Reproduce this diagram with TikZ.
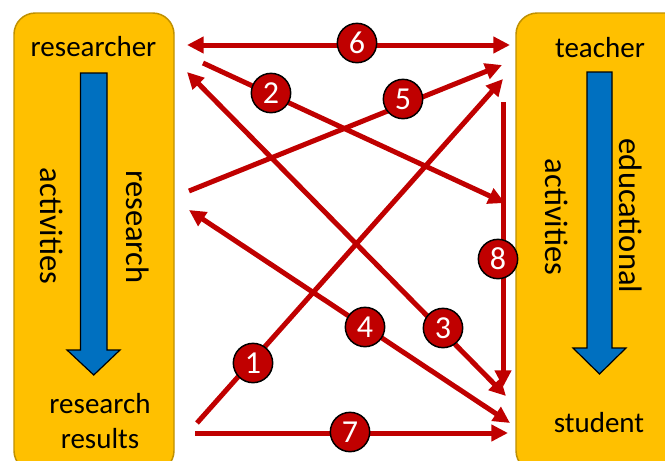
\documentclass[tikz,border=0pt]{standalone}
\usepackage{fontspec}
\setmainfont{Carlito}
\usetikzlibrary{arrows.meta}
\definecolor{boxfill}{HTML}{FFC000}
\definecolor{boxedge}{HTML}{BF9000}
\definecolor{flowblue}{HTML}{0070C0}
\definecolor{linkred}{HTML}{C00000}
\tikzset{
  rolebox/.style={fill=boxfill,draw=boxedge,line width=1.1pt,rounded corners=16pt},
  flowarrow/.style={fill=flowblue,draw=black,line width=0.9pt,line join=miter},
  lbl/.style={font=\fontsize{21.75}{26}\selectfont,inner sep=0pt,anchor=base},
  rlbl/.style={font=\fontsize{24.4}{28}\selectfont,inner sep=0pt,rotate=-90,anchor=center},
  link/.style={draw=linkred,line width=3.75pt,-{Triangle[length=12.5pt,width=12pt]}},
  linktwo/.style={draw=linkred,line width=3.75pt,{Triangle[length=12.5pt,width=12pt]}-{Triangle[length=12.5pt,width=12pt]}},
  badge/.style={circle,fill=linkred,draw=black,line width=1.1pt,minimum size=29.5pt,inner sep=0pt,text=white,font=\fontsize{24}{28}\selectfont}
}
\begin{document}
\begin{tikzpicture}[x=0.75pt,y=-0.75pt]
\clip (0,0) rectangle (665,461);
\fill[white] (0,0) rectangle (665,461);
% boxes
\draw[rolebox] (14,13) rectangle (174,472);
\draw[rolebox] (516,13) rectangle (690,472);
% blue flow arrows
\draw[flowarrow] (80.5,73) -- (107,73) -- (107,350) -- (120,350) -- (93.75,375) -- (67,350) -- (80.5,350) -- cycle;
\draw[flowarrow] (587,72) -- (612,72) -- (612,348) -- (626,348) -- (599.5,374) -- (573,348) -- (587,348) -- cycle;
% labels
\node[lbl] (researcher) at (93.5,56) {researcher};
\node[lbl] (resres1) at (100,413) {research};
\node[lbl] (resres2) at (100,448) {results};
\node[lbl] (teacher) at (600,57) {teacher};
\node[lbl] (student) at (599,432) {student};
\node[rlbl] (lact) at (52,226) {activities};
\node[rlbl] (lres) at (138,227) {research};
\node[rlbl] (ract) at (557,217) {activities};
\node[rlbl] (redu) at (631,216) {educational};
% endpoints
\coordinate (s6) at (187,45); \coordinate (e6) at (510,45);
\coordinate (s2) at (203,63); \coordinate (e2) at (505,203);
\coordinate (s5) at (189,191); \coordinate (e5) at (502,65);
\coordinate (s3) at (187,72); \coordinate (e3) at (506,396);
\coordinate (s4) at (189,210); \coordinate (e4) at (510,423);
\coordinate (s1) at (197,423); \coordinate (e1) at (503,79);
\coordinate (s7) at (195,433); \coordinate (e7) at (508,433);
\coordinate (s8) at (503,102); \coordinate (e8) at (503,387);
% connectors
\draw[linktwo] (s6) -- (e6);
\draw[link] (s2) -- (e2);
\draw[link] (s5) -- (e5);
\draw[linktwo] (s3) -- (e3);
\draw[linktwo] (s4) -- (e4);
\draw[link] (s1) -- (e1);
\draw[link] (s7) -- (e7);
\draw[link] (s8) -- (e8);
% badges
\node[badge] (b6) at (357,43) {6};
\node[badge] (b2) at (271,93) {2};
\node[badge] (b5) at (403,99) {5};
\node[badge] (b3) at (443,328) {3};
\node[badge] (b4) at (365,327) {4};
\node[badge] (b1) at (253,363) {1};
\node[badge] (b7) at (350,432) {7};
\node[badge] (b8) at (498,259) {8};
\end{tikzpicture}
\end{document}
